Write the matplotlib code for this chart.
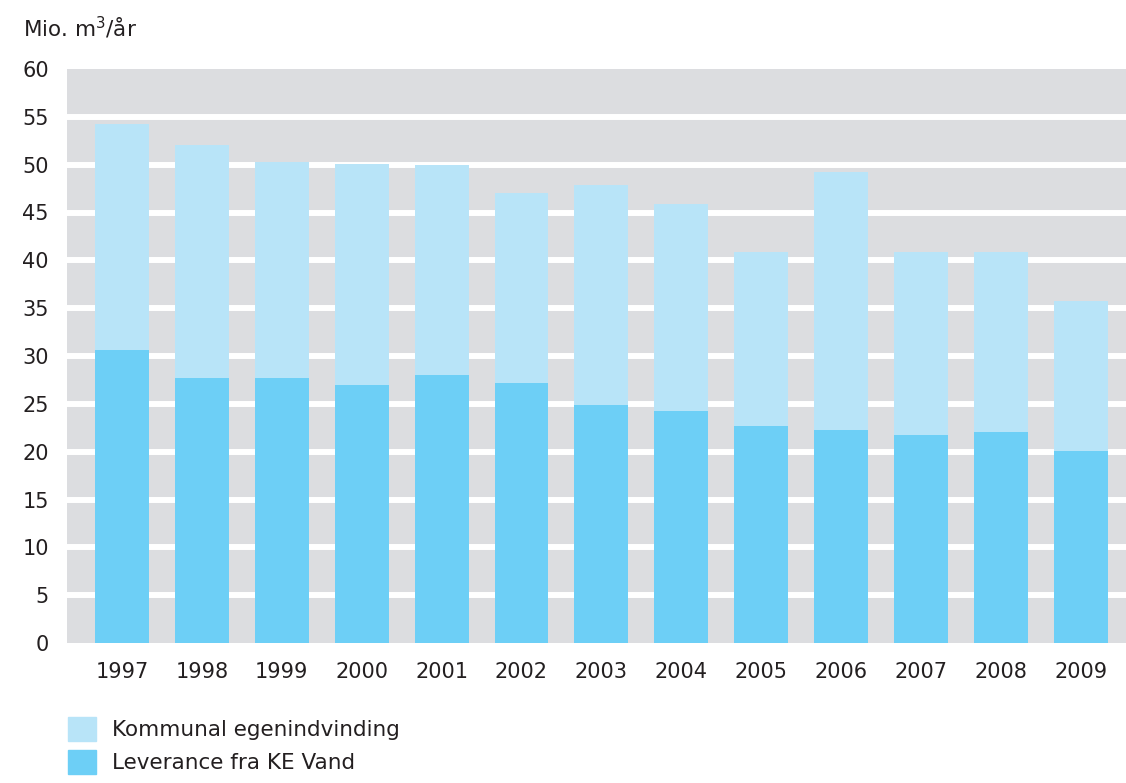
import numpy as np
import matplotlib
matplotlib.use("Agg")
import matplotlib.pyplot as plt
from matplotlib.patches import Patch

# data (mio. m3 per year)
years = ["1997", "1998", "1999", "2000", "2001", "2002", "2003",
         "2004", "2005", "2006", "2007", "2008", "2009"]
leverance = [30.6, 27.7, 27.7, 27.0, 28.0, 27.2, 24.9,
             24.2, 22.7, 22.3, 21.7, 22.1, 20.1]
kommunal = [23.6, 24.4, 22.6, 23.1, 22.0, 19.8, 23.0,
            21.7, 18.2, 26.9, 19.2, 18.8, 15.7]
yticks = list(range(0, 65, 5))

c_light = "#b8e4f8"
c_dark = "#6dcff6"
c_bg = "#dcdde0"
c_text = "#231f20"

plt.rcParams["font.family"] = ["DejaVu Sans"]

fig = plt.figure(figsize=(11.26, 7.83), dpi=100)
ax = fig.add_axes([67 / 1126, 1 - 643 / 783, 1 - 67 / 1126, (643 - 69) / 783])
ax.set_facecolor(c_bg)

x = np.arange(len(years))
ax.bar(x, leverance, width=0.675, color=c_dark, zorder=3)
ax.bar(x, kommunal, width=0.675, bottom=leverance, color=c_light, zorder=3)

# white horizontal bands acting as grid
for v in yticks[1:-1]:
    ax.axhline(v, color="white", lw=4.3, zorder=2)

ax.set_xlim(-0.688, 12.566)
ax.set_ylim(0, 59.7)
ax.set_xticks(x)
ax.set_xticklabels(years)
ax.set_yticks(yticks)
ax.tick_params(length=0, labelsize=15, colors=c_text)
ax.tick_params(axis="y", pad=13)
ax.tick_params(axis="x", pad=14)
for s in ax.spines.values():
    s.set_visible(False)

fig.text(23 / 1126, 1 - 28 / 783, "Mio. m$^3$/år", fontsize=15.5,
         color=c_text, va="center", ha="left")

handles = [Patch(color=c_light, label="Kommunal egenindvinding"),
           Patch(color=c_dark, label="Leverance fra KE Vand")]
leg = fig.legend(handles=handles, loc="upper left",
                 bbox_to_anchor=(64 / 1126, 1 - 713 / 783),
                 frameon=False, fontsize=15.5, handlelength=1.3,
                 handleheight=1.3, labelspacing=0.45, handletextpad=0.75,
                 borderaxespad=0, borderpad=0.2)
for t in leg.get_texts():
    t.set_color(c_text)

fig.savefig("out.png", dpi=100)
